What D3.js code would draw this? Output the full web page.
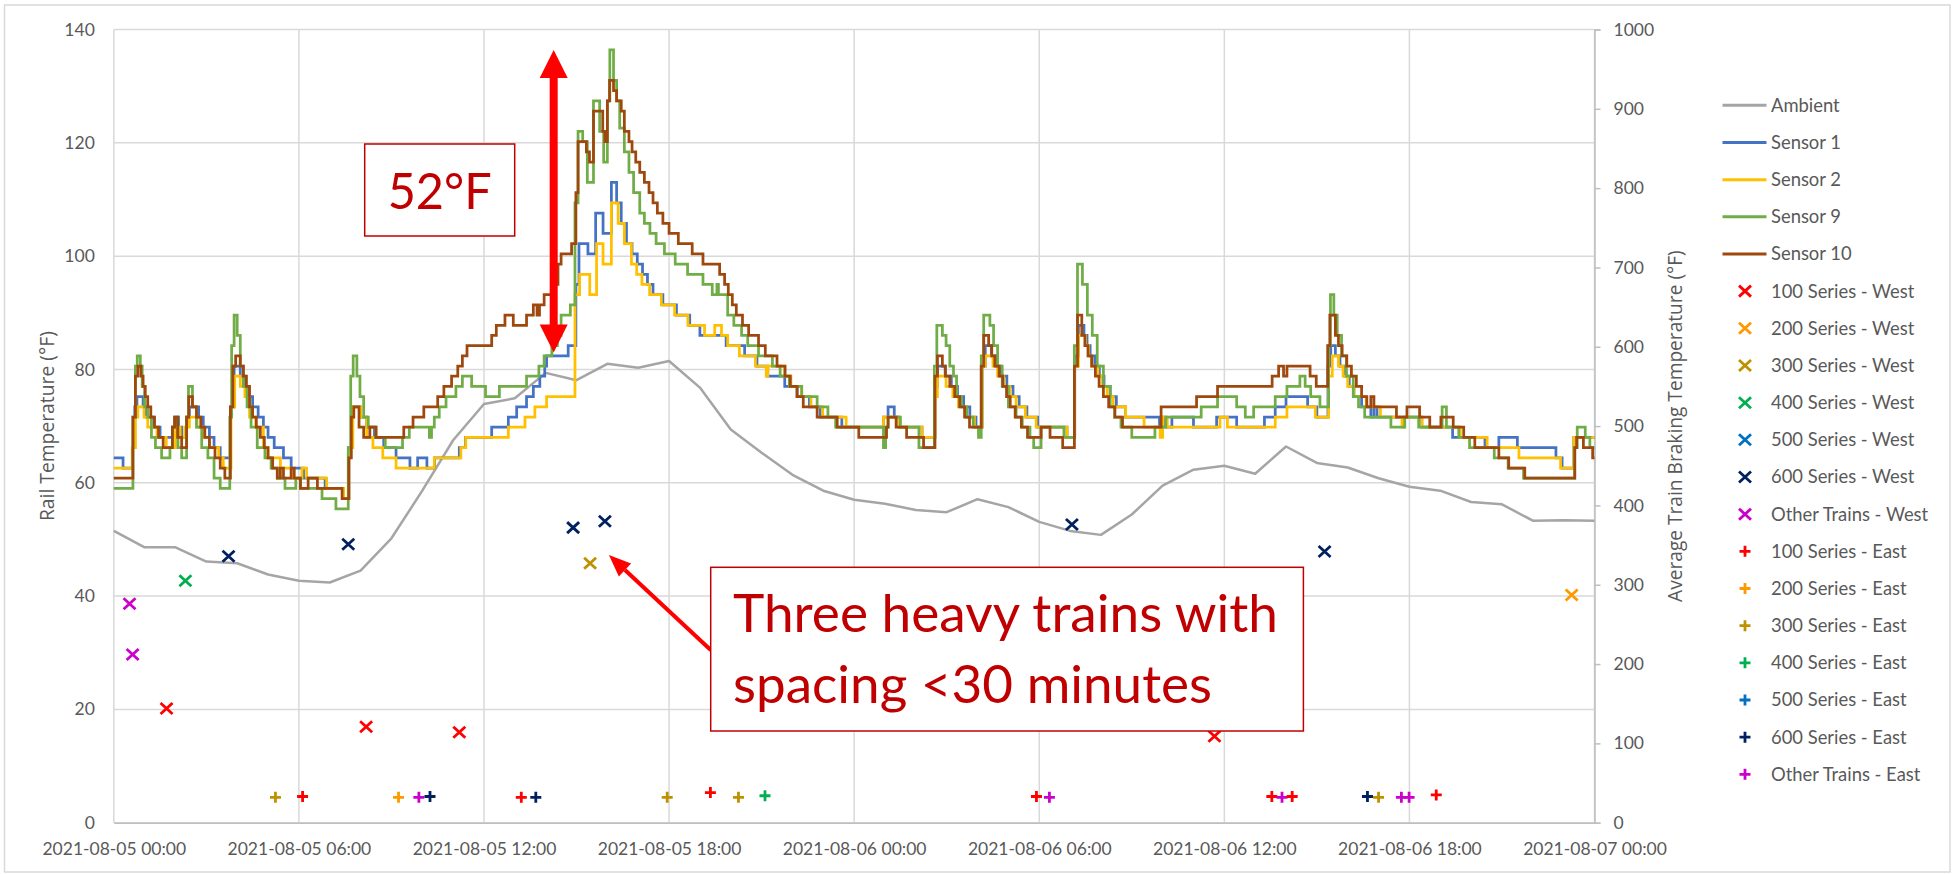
<!DOCTYPE html>
<html>
<head>
<meta charset="utf-8">
<script src="https://cdn.jsdelivr.net/npm/d3@7"></script>
<style>
  body { margin: 0; background: #fff; }
  svg { display: block; font-family: Lato, "Open Sans", sans-serif; }
</style>
</head>
<body>
<svg id="chart" width="1959" height="874"></svg>
<script>
// hours after 2021-08-05 00:00, temperatures in °F
const ambient = [51.5, 48.6, 48.6, 46.1, 45.8, 43.8, 42.7, 42.4, 44.5, 50.2, 58.6, 67.5, 73.9,
  74.9, 79.4, 78.1, 81.0, 80.3, 81.5, 76.8, 69.4, 65.3, 61.4, 58.6, 57.0,
  56.3, 55.2, 54.8, 57.1, 55.7, 53.1, 51.5, 50.8, 54.4, 59.5, 62.3, 63.0,
  61.6, 66.4, 63.5, 62.7, 60.8, 59.3, 58.6, 56.6, 56.2, 53.3, 53.4, 53.3];

const sensor1 = [[0,64.4],[0.3,62.6],[0.6,66.2],[0.68,73.4],[0.75,75.2],[0.95,73.4],[1.05,71.6],[1.3,69.8],[1.5,68],[1.9,69.8],[2.0,71.6],[2.1,69.8],[2.2,68],[2.36,71.6],[2.45,73.4],[2.75,71.6],[2.9,69.8],[3.1,68],[3.25,66.2],[3.45,64.4],[3.78,73.4],[3.9,80.6],[4.1,78.8],[4.25,77],[4.38,75.2],[4.5,73.4],[4.68,71.6],[4.85,69.8],[5.0,68],[5.2,66.2],[5.5,64.4],[5.75,62.6],[6.15,60.8],[6.85,59],[7.45,57.2],[7.62,66.2],[7.72,73.4],[8.0,71.6],[8.2,69.8],[8.45,68],[8.75,66.2],[9.15,64.4],[9.6,62.6],[9.85,64.4],[10.15,62.6],[10.4,64.4],[11.2,66.2],[11.4,68],[12.25,69.8],[12.79,71.6],[13.06,73.4],[13.38,75.2],[13.6,77],[13.81,78.8],[13.97,80.6],[14.03,82.4],[14.73,84.2],[14.98,95],[15.08,102.2],[15.37,100.4],[15.62,107.6],[15.86,104],[16.13,113],[16.3,109.4],[16.45,105.8],[16.62,102.2],[16.8,100.4],[16.97,98.6],[17.14,96.8],[17.3,95],[17.48,93.2],[17.8,91.4],[18.24,89.6],[18.67,87.8],[19.0,86],[19.85,84.2],[20.45,82.4],[20.85,80.6],[21.2,78.8],[21.75,77],[22.15,75.2],[22.55,73.4],[22.9,71.6],[23.6,69.8],[24.95,71.6],[25.1,73.4],[25.3,71.6],[25.45,69.8],[26.2,68],[26.62,77],[26.7,80.6],[26.95,78.8],[27.15,77],[27.35,75.2],[27.55,73.4],[27.75,71.6],[27.95,69.8],[28.15,80.6],[28.25,84.2],[28.45,82.4],[28.6,80.6],[28.75,78.8],[28.95,77],[29.15,75.2],[29.35,73.4],[29.6,71.6],[29.95,69.8],[30.9,68],[31.15,82.4],[31.27,87.8],[31.45,86],[31.55,84.2],[31.65,82.4],[31.8,80.6],[31.95,78.8],[32.1,77],[32.3,75.2],[32.5,73.4],[32.8,71.6],[33.9,69.8],[34.0,71.6],[34.1,69.8],[34.3,71.6],[35.0,69.8],[35.75,71.6],[36.4,69.8],[37.3,71.6],[37.65,73.4],[38.0,75.2],[38.7,73.4],[39.0,71.6],[39.36,80.6],[39.45,84.2],[39.6,82.4],[39.75,80.6],[39.9,78.8],[40.05,77],[40.2,75.2],[40.45,73.4],[40.75,71.6],[40.85,73.4],[40.95,71.6],[42.4,69.8],[43.4,68],[44.45,66.2],[44.9,68],[45.5,66.2],[46.75,64.4],[46.95,62.6],[47.33,68],[48,68]];

const sensor2 = [[0,62.6],[0.6,66.2],[0.7,71.6],[0.78,73.4],[0.98,71.6],[1.1,69.8],[1.4,68],[1.7,66.2],[2.0,69.8],[2.15,68],[2.3,69.8],[2.45,71.6],[2.7,69.8],[2.9,68],[3.1,66.2],[3.4,64.4],[3.55,62.6],[3.8,73.4],[3.92,78.8],[4.1,77],[4.25,75.2],[4.4,71.6],[4.6,69.8],[4.85,66.2],[5.0,64.4],[5.4,62.6],[5.75,60.8],[6.1,62.6],[6.25,60.8],[6.9,59],[7.45,57.2],[7.62,66.2],[7.75,73.4],[8.0,71.6],[8.2,68],[8.4,66.2],[8.72,64.4],[9.15,62.6],[10.39,64.4],[11.25,66.2],[11.41,68],[12.79,69.8],[13.33,71.6],[13.65,73.4],[14.03,75.2],[14.95,93.2],[15.1,96.8],[15.43,93.2],[15.65,102.2],[15.86,98.6],[16.13,109.4],[16.35,105.8],[16.55,102.2],[16.78,98.6],[16.95,96.8],[17.12,95],[17.37,93.2],[17.75,91.4],[18.18,89.6],[18.61,87.8],[19.15,86],[19.48,87.8],[19.7,86],[19.9,84.2],[20.28,82.4],[20.8,80.6],[21.15,78.8],[21.2,80.6],[21.75,78.8],[21.95,77],[22.3,75.2],[22.6,73.4],[22.98,71.6],[23.74,69.8],[24.95,71.6],[25.45,69.8],[26.2,68],[26.62,75.2],[26.7,78.8],[26.98,77],[27.2,75.2],[27.38,73.4],[27.65,71.6],[27.9,69.8],[28.15,80.6],[28.25,82.4],[28.5,80.6],[28.65,78.8],[28.85,77],[29.05,75.2],[29.25,73.4],[29.55,71.6],[29.9,69.8],[30.9,68],[31.15,80.6],[31.27,86],[31.5,84.2],[31.6,82.4],[31.7,80.6],[31.9,78.8],[32.05,77],[32.2,75.2],[32.4,73.4],[32.8,71.6],[33.4,69.8],[33.92,68],[34.0,71.6],[34.15,69.8],[35.86,71.6],[36.1,69.8],[37.65,71.6],[38.03,73.4],[38.95,71.6],[39.38,78.8],[39.5,82.4],[39.7,80.6],[39.85,78.8],[40.0,77],[40.2,75.2],[40.6,73.4],[41.06,71.6],[41.76,69.8],[41.82,71.6],[42.41,69.8],[43.65,68],[44.52,66.2],[45.55,64.4],[46.9,62.6],[47.33,68],[48,68]];

const sensor9 = [[0,59],[0.62,71.6],[0.7,80.6],[0.76,82.4],[0.86,80.6],[0.92,77],[1.0,73.4],[1.1,71.6],[1.22,68],[1.35,66.2],[1.55,64.4],[1.82,66.2],[1.9,69.8],[1.97,71.6],[2.08,66.2],[2.2,64.4],[2.36,71.6],[2.42,77],[2.55,73.4],[2.68,69.8],[2.85,66.2],[3.05,64.4],[3.25,60.8],[3.45,59],[3.76,71.6],[3.82,84.2],[3.9,89.6],[4.0,86],[4.1,80.6],[4.2,77],[4.32,73.4],[4.45,69.8],[4.65,66.2],[4.9,64.4],[5.1,62.6],[5.3,60.8],[5.55,59],[5.9,60.8],[6.05,59],[6.75,57.2],[7.2,55.4],[7.6,66.2],[7.68,78.8],[7.76,82.4],[7.88,78.8],[7.98,75.2],[8.1,71.6],[8.25,69.8],[8.5,68],[8.8,66.2],[9.36,68],[9.58,69.8],[10.23,68],[10.3,69.8],[10.39,71.6],[10.55,73.4],[10.77,75.2],[11.09,77],[11.3,78.8],[11.6,77],[12.05,75.2],[12.5,77],[13.38,78.8],[13.78,80.6],[13.95,82.4],[14.2,84.2],[14.38,86],[14.5,89.6],[14.8,91.4],[14.95,109.4],[15.05,122],[15.2,120.2],[15.35,113],[15.55,127.4],[15.75,122],[15.88,116.6],[16.0,127.4],[16.08,136.4],[16.2,131],[16.3,127.4],[16.4,122.6],[16.55,118.4],[16.7,114.8],[16.85,111.2],[17.05,107.6],[17.2,105.8],[17.38,104],[17.58,102.2],[17.85,100.4],[18.2,98.6],[18.6,96.8],[19.1,95],[19.4,93.2],[19.55,95],[19.6,93.2],[19.9,89.6],[20.1,87.8],[20.35,86],[20.55,84.2],[20.9,82.4],[21.35,80.6],[21.6,78.8],[21.9,77],[22.3,75.2],[22.8,73.4],[23.15,71.6],[23.4,69.8],[24.95,66.2],[25.02,69.8],[25.1,71.6],[25.5,69.8],[26.1,66.2],[26.6,80.6],[26.68,87.8],[26.86,86],[26.98,84.2],[27.1,80.6],[27.22,78.8],[27.32,75.2],[27.48,73.4],[27.65,71.6],[27.86,69.8],[28.03,68],[28.12,82.4],[28.2,89.6],[28.4,87.8],[28.52,84.2],[28.65,80.6],[28.8,77],[29.0,73.4],[29.25,71.6],[29.45,69.8],[29.7,68],[29.82,66.2],[30.06,69.8],[30.8,68],[31.14,84.2],[31.24,98.6],[31.4,95],[31.56,89.6],[31.72,86],[31.88,80.6],[32.08,77],[32.3,73.4],[32.45,71.6],[32.65,69.8],[33.0,68],[33.75,69.8],[34.1,71.6],[35.25,73.4],[35.78,75.2],[36.4,73.4],[36.68,71.6],[36.95,73.4],[37.65,75.2],[38.03,77],[38.45,78.8],[38.62,77],[38.8,75.2],[39.1,73.4],[39.38,84.2],[39.44,93.2],[39.55,89.6],[39.66,86],[39.8,82.4],[39.96,78.8],[40.18,75.2],[40.35,73.4],[40.55,71.6],[41.4,69.8],[41.85,71.6],[42.3,69.8],[43.06,73.4],[43.2,69.8],[43.6,68],[43.95,66.2],[44.75,64.4],[45.2,62.6],[45.7,60.8],[47.36,66.2],[47.44,69.8],[47.7,68],[47.85,66.2],[48,66.2]];

const sensor10 = [[0,60.8],[0.62,71.6],[0.7,78.8],[0.78,80.6],[0.88,78.8],[0.95,77],[1.02,75.2],[1.1,73.4],[1.2,71.6],[1.32,69.8],[1.45,68],[1.6,66.2],[1.9,69.8],[1.97,71.6],[2.07,68],[2.2,66.2],[2.36,71.6],[2.43,75.2],[2.55,73.4],[2.68,71.6],[2.82,69.8],[2.95,68],[3.1,66.2],[3.28,64.4],[3.45,62.6],[3.6,60.8],[3.78,73.4],[3.86,80.6],[3.95,82.4],[4.1,80.6],[4.2,78.8],[4.3,77],[4.4,73.4],[4.5,71.6],[4.62,69.8],[4.75,68],[4.88,66.2],[5.0,64.4],[5.15,62.6],[5.3,60.8],[5.4,62.6],[5.5,60.8],[5.75,62.6],[5.85,60.8],[6.05,59],[6.3,60.8],[6.6,59],[7.4,57.2],[7.62,64.4],[7.7,71.6],[7.78,73.4],[7.95,69.8],[8.1,68],[8.3,69.8],[8.5,68],[9.4,69.8],[9.7,71.6],[10.05,73.4],[10.5,75.2],[10.7,77],[10.95,78.8],[11.15,80.6],[11.3,82.4],[11.45,84.2],[12.25,86],[12.4,87.8],[12.68,89.6],[12.95,87.8],[13.38,89.6],[13.6,91.4],[13.72,89.6],[13.8,91.4],[13.95,93.2],[14.2,95],[14.4,98.6],[14.5,100.4],[14.84,102.2],[14.98,111.2],[15.05,120.2],[15.32,118.4],[15.42,116.6],[15.55,125.6],[15.85,122],[15.92,120.2],[16.0,127.4],[16.07,131],[16.2,129.2],[16.3,127.4],[16.45,125.6],[16.55,122],[16.7,120.2],[16.8,118.4],[16.92,116.6],[17.05,114.8],[17.2,113],[17.35,111.2],[17.48,109.4],[17.62,107.6],[17.8,105.8],[18.0,104],[18.3,102.2],[18.75,100.4],[19.1,98.6],[19.64,96.8],[19.8,95],[19.92,93.2],[20.05,91.4],[20.18,89.6],[20.38,87.8],[20.58,86],[20.9,84.2],[21.12,82.4],[21.5,80.6],[21.76,78.8],[21.93,77],[22.15,75.2],[22.35,73.4],[22.8,71.6],[23.45,69.8],[24.15,68],[25.05,69.8],[25.1,71.6],[25.36,69.8],[25.7,68],[26.25,66.2],[26.62,78.8],[26.7,82.4],[26.86,80.6],[26.96,78.8],[27.1,77],[27.26,75.2],[27.42,73.4],[27.58,71.6],[27.74,69.8],[28.12,80.6],[28.2,86],[28.36,84.2],[28.46,82.4],[28.56,80.6],[28.7,78.8],[28.82,77],[28.94,75.2],[29.06,73.4],[29.22,71.6],[29.42,69.8],[29.62,68],[30.06,69.8],[30.35,68],[30.76,66.2],[31.14,80.6],[31.24,89.6],[31.38,86],[31.48,84.2],[31.58,82.4],[31.7,80.6],[31.82,78.8],[31.94,77],[32.08,75.2],[32.25,73.4],[32.45,71.6],[32.7,69.8],[33.95,73.4],[35.1,75.2],[35.78,77],[37.55,78.8],[37.76,80.6],[37.92,78.8],[38.03,80.6],[38.78,78.8],[38.98,77],[39.35,84.2],[39.42,89.6],[39.6,86],[39.7,84.2],[39.82,82.4],[39.97,80.6],[40.12,78.8],[40.28,77],[40.45,75.2],[40.62,73.4],[40.75,75.2],[40.85,73.4],[41.58,71.6],[41.92,73.4],[42.33,71.6],[42.66,69.8],[43.02,71.6],[43.42,69.8],[43.76,68],[44.12,66.2],[44.9,64.4],[45.22,62.6],[45.74,60.8],[47.36,66.2],[47.42,68],[47.64,66.2],[47.94,64.4],[48,64.4]];

// train passes: [series, hour, average braking temperature °F]
const trainsWest = [["Other", 0.51, 276], ["Other", 0.61, 212], ["100", 1.71, 144], ["400", 2.32, 305],
  ["600", 3.72, 336], ["600", 7.6, 351], ["100", 8.18, 121], ["100", 11.2, 114], ["600", 14.89, 372],
  ["300", 15.44, 327], ["600", 15.92, 380], ["600", 31.06, 376], ["100", 35.68, 109], ["600", 39.25, 342],
  ["200", 47.26, 287]];
const trainsEast = [["300", 5.24, 32], ["100", 6.12, 33], ["200", 9.23, 32], ["Other", 9.89, 32],
  ["600", 10.25, 33], ["100", 13.21, 32], ["600", 13.68, 32], ["300", 17.94, 32], ["100", 19.34, 38],
  ["300", 20.25, 32], ["400", 21.11, 34], ["100", 29.91, 33], ["Other", 30.33, 32], ["100", 37.54, 33],
  ["Other", 37.87, 32], ["100", 38.2, 33], ["600", 40.64, 33], ["300", 41.0, 32], ["Other", 41.74, 32],
  ["Other", 41.99, 32], ["100", 42.87, 35]];

const trainGroups = ["100", "200", "300", "400", "500", "600", "Other"];
const trainColors = ["#ff0000", "#ff9900", "#bf9000", "#00b050", "#0070c0", "#002060", "#cc00cc"];
const lineNames = ["Ambient", "Sensor 1", "Sensor 2", "Sensor 9", "Sensor 10"];
const lineColors = ["#a5a5a5", "#4472c4", "#ffc000", "#70ad47", "#9e480e"];
const leftTicks = [0, 20, 40, 60, 80, 100, 120, 140];
const rightTicks = [0, 100, 200, 300, 400, 500, 600, 700, 800, 900, 1000];

const svg = d3.select("#chart");
const start = new Date(2021, 7, 5, 0, 0);
const toDate = h => new Date(start.getTime() + h * 3600e3);
const x = d3.scaleTime().domain([toDate(0), toDate(48)]).range([113.8, 1594.5]);
const yL = d3.scaleLinear().domain([0, 140]).range([822.7, 29.5]);
const yR = d3.scaleLinear().domain([0, 1000]).range([822.7, 29.5]);
const xTicks = d3.range(0, 49, 6).map(toDate);
const colorOf = d3.scaleOrdinal(trainGroups, trainColors);

// shrink or grow a text's font so it spans the wanted width
function fitText(sel, width) {
  const fs = parseFloat(sel.style("font-size"));
  const w = sel.node().getComputedTextLength();
  sel.style("font-size", (fs * width / w).toFixed(2) + "px");
}

// outer chart border
svg.append("rect").attr("x", 4.5).attr("y", 5).attr("width", 1945.5).attr("height", 867)
  .attr("fill", "#fff").attr("stroke", "#d9d9d9").attr("stroke-width", 1.5);

// gridlines
const grid = svg.append("g").attr("stroke", "#d9d9d9").attr("stroke-width", 1.5);
grid.selectAll(".h").data(leftTicks).join("line")
  .attr("x1", x.range()[0]).attr("x2", x.range()[1])
  .attr("y1", d => yL(d)).attr("y2", d => yL(d));
grid.selectAll(".v").data(xTicks).join("line")
  .attr("x1", d => x(d)).attr("x2", d => x(d))
  .attr("y1", yL(0)).attr("y2", yL(140));

// axes
const axisText = g => g.selectAll("text").attr("fill", "#595959").style("font-size", "17.5px")
  .style("font-family", "Lato, sans-serif");

svg.append("g").attr("transform", `translate(${x.range()[0]},0)`)
  .call(d3.axisLeft(yL).tickValues(leftTicks).tickSize(0).tickPadding(19))
  .call(g => g.select(".domain").remove())
  .call(axisText);

svg.append("g").attr("transform", `translate(0,${yL(0)})`)
  .call(d3.axisBottom(x).tickValues(xTicks).tickSize(0).tickPadding(20)
    .tickFormat(d3.timeFormat("%Y-%m-%d %H:%M")))
  .call(g => g.select(".domain").attr("stroke", "#bfbfbf").attr("stroke-width", 1.5))
  .call(axisText);

svg.append("g").attr("transform", `translate(${x.range()[1]},0)`)
  .call(d3.axisRight(yR).tickValues(rightTicks).tickSize(6).tickPadding(13).tickFormat(d3.format("d")))
  .call(g => g.select(".domain").attr("stroke", "#bfbfbf").attr("stroke-width", 1.5))
  .call(g => g.selectAll(".tick line").attr("stroke", "#bfbfbf").attr("stroke-width", 1.5))
  .call(axisText);

// axis titles
const midY = (yL(0) + yL(140)) / 2;
svg.append("text").attr("transform", `translate(47,${midY}) rotate(-90)`)
  .attr("text-anchor", "middle").attr("dy", "0.35em").attr("fill", "#595959")
  .style("font-family", "'Open Sans', sans-serif").style("font-size", "17px")
  .text("Rail Temperature (°F)").call(fitText, 190);
svg.append("text").attr("transform", `translate(1675,${midY}) rotate(-90)`)
  .attr("text-anchor", "middle").attr("dy", "0.35em").attr("fill", "#595959")
  .style("font-family", "'Open Sans', sans-serif").style("font-size", "17px")
  .text("Average Train Braking Temperature (°F)").call(fitText, 352);

// temperature lines
const plot = svg.append("g");
plot.append("path").datum(ambient)
  .attr("fill", "none").attr("stroke", lineColors[0]).attr("stroke-width", 2.5)
  .attr("stroke-linejoin", "round")
  .attr("d", d3.line().x((d, i) => x(toDate(i))).y(d => yL(d)));

const step = d3.line().x(d => x(toDate(d[0]))).y(d => yL(d[1])).curve(d3.curveStepAfter);
[sensor1, sensor2, sensor9, sensor10].forEach((s, i) => {
  plot.append("path").datum(s)
    .attr("fill", "none").attr("stroke", lineColors[i + 1]).attr("stroke-width", 2.75)
    .attr("d", step);
});

// train markers
const crossPath = "M-6,-5.5L6,5.5M-6,5.5L6,-5.5";
const plusPath = "M-5.5,0L5.5,0M0,-5.5L0,5.5";
plot.selectAll(".west").data(trainsWest).join("path")
  .attr("transform", d => `translate(${x(toDate(d[1]))},${yR(d[2])})`)
  .attr("d", crossPath).attr("stroke", d => colorOf(d[0])).attr("stroke-width", 2.8).attr("fill", "none");
plot.selectAll(".east").data(trainsEast).join("path")
  .attr("transform", d => `translate(${x(toDate(d[1]))},${yR(d[2])})`)
  .attr("d", plusPath).attr("stroke", d => colorOf(d[0])).attr("stroke-width", 2.8).attr("fill", "none");

// legend
const legendItems = [
  ...lineNames.map((n, i) => ({ name: n, color: lineColors[i], kind: "line" })),
  ...trainGroups.map(g => ({ name: g === "Other" ? "Other Trains - West" : `${g} Series - West`, color: colorOf(g), kind: "cross" })),
  ...trainGroups.map(g => ({ name: g === "Other" ? "Other Trains - East" : `${g} Series - East`, color: colorOf(g), kind: "plus" }))
];
const legend = svg.append("g");
const li = legend.selectAll("g").data(legendItems).join("g")
  .attr("transform", (d, i) => `translate(1745,${105.3 + i * 37.17})`);
li.filter(d => d.kind === "line").append("line")
  .attr("x1", -22.5).attr("x2", 21.5).attr("stroke", d => d.color).attr("stroke-width", 3);
li.filter(d => d.kind !== "line").append("path")
  .attr("d", d => d.kind === "cross" ? crossPath : plusPath)
  .attr("stroke", d => d.color).attr("stroke-width", 2.8).attr("fill", "none");
li.append("text").attr("x", 26).attr("dy", "0.35em").attr("fill", "#595959")
  .style("font-size", "18.4px").text(d => d.name);

// annotation: 52°F difference
const ann = svg.append("g");
ann.append("rect").attr("x", 364.7).attr("y", 144).attr("width", 150).attr("height", 92)
  .attr("fill", "#fff").attr("stroke", "#c00000").attr("stroke-width", 1.5);
ann.append("text").attr("x", 439.7).attr("y", 209.3).attr("text-anchor", "middle")
  .attr("fill", "#c00000").style("font-size", "51px")
  .attr("textLength", 104).attr("lengthAdjust", "spacingAndGlyphs").text("52°F");

const ax = x(toDate(14.26)), yTop = yL(136.4), yBot = yL(83.0);
const head = 28, hw = 14, sw = 4;
ann.append("path").attr("fill", "#ff0000")
  .attr("d", `M${ax},${yTop}L${ax + hw},${yTop + head}L${ax + sw},${yTop + head}L${ax + sw},${yBot - head}` +
    `L${ax + hw},${yBot - head}L${ax},${yBot}L${ax - hw},${yBot - head}L${ax - sw},${yBot - head}` +
    `L${ax - sw},${yTop + head}L${ax - hw},${yTop + head}Z`);

// annotation: three heavy trains
const tipX = x(toDate(16.05)), tipY = yR(337.5);
const tailX = 710.7, tailY = 650;
const ang = Math.atan2(tipY - tailY, tipX - tailX);
const hl = 22, hh = 9;
const bx = tipX - hl * Math.cos(ang), by = tipY - hl * Math.sin(ang);
ann.append("line").attr("x1", tailX).attr("y1", tailY).attr("x2", bx).attr("y2", by)
  .attr("stroke", "#ff0000").attr("stroke-width", 4);
ann.append("path").attr("fill", "#ff0000")
  .attr("d", `M${tipX},${tipY}L${bx + hh * Math.sin(ang)},${by - hh * Math.cos(ang)}` +
    `L${bx - hh * Math.sin(ang)},${by + hh * Math.cos(ang)}Z`);

ann.append("rect").attr("x", 710.7).attr("y", 567.3).attr("width", 592.7).attr("height", 163.7)
  .attr("fill", "#fff").attr("stroke", "#c00000").attr("stroke-width", 1.5);
ann.append("text").attr("x", 733).attr("y", 632.3).attr("fill", "#c00000").style("font-size", "52px")
  .attr("textLength", 545).attr("lengthAdjust", "spacingAndGlyphs").text("Three heavy trains with");
ann.append("text").attr("x", 733).attr("y", 703.3).attr("fill", "#c00000").style("font-size", "52px")
  .attr("textLength", 479).attr("lengthAdjust", "spacingAndGlyphs").text("spacing <30 minutes");
</script>
</body>
</html>
